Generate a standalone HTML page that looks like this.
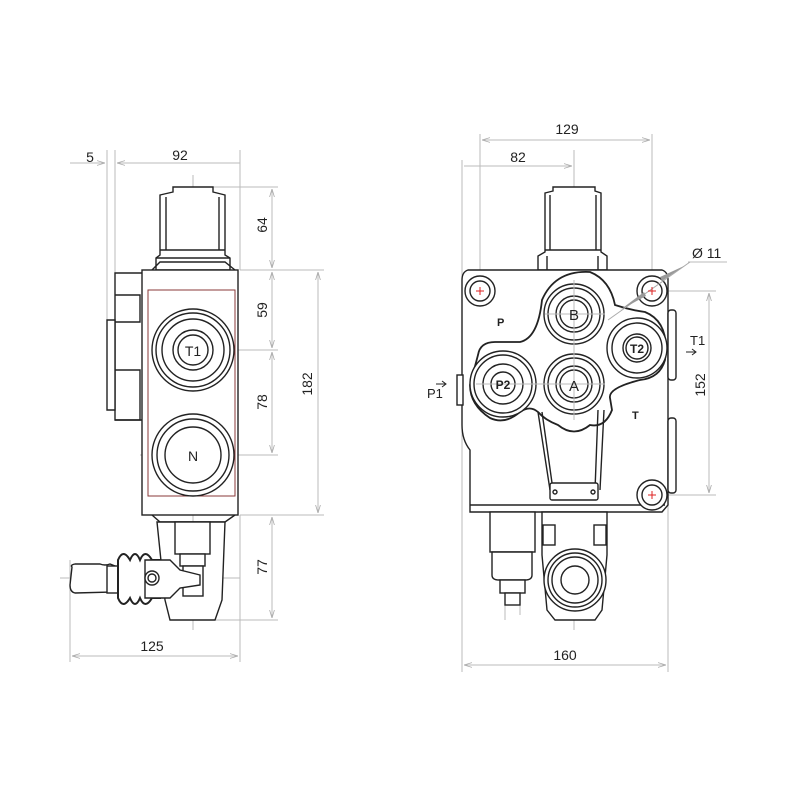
<!DOCTYPE html>
<html><head><meta charset="utf-8"><style>
html,body{margin:0;padding:0;background:#fff;width:800px;height:800px;overflow:hidden}
svg{display:block}
text{font-family:"Liberation Sans",sans-serif;fill:#222}
</style></head><body>
<svg width="800" height="800" viewBox="0 0 800 800" xmlns="http://www.w3.org/2000/svg">
<defs>
<marker id="a" viewBox="0 0 10 10" refX="10" refY="5" markerWidth="8" markerHeight="8" orient="auto-start-reverse"><path d="M0,2 L10,5 L0,8" fill="none" stroke="#aaa" stroke-width="1"/></marker>
</defs>
<g stroke="#bbb" stroke-width="1" fill="none">
<line x1="107" y1="150" x2="107" y2="410"/><line x1="115" y1="150" x2="115" y2="330"/><line x1="240" y1="150" x2="240" y2="270"/>
<line x1="70" y1="163" x2="105" y2="163" marker-end="url(#a)"/><line x1="117" y1="163" x2="240" y2="163" marker-start="url(#a)"/>
<line x1="200" y1="187" x2="278" y2="187"/><line x1="240" y1="270" x2="324" y2="270"/><line x1="120" y1="350" x2="278" y2="350"/>
<line x1="140" y1="455" x2="278" y2="455"/><line x1="240" y1="515" x2="324" y2="515"/><line x1="200" y1="620" x2="278" y2="620"/>
<line x1="272" y1="189" x2="272" y2="268" marker-start="url(#a)" marker-end="url(#a)"/>
<line x1="272" y1="272" x2="272" y2="348" marker-start="url(#a)" marker-end="url(#a)"/>
<line x1="272" y1="352" x2="272" y2="453" marker-start="url(#a)" marker-end="url(#a)"/>
<line x1="272" y1="517" x2="272" y2="618" marker-start="url(#a)" marker-end="url(#a)"/>
<line x1="318" y1="272" x2="318" y2="513" marker-start="url(#a)" marker-end="url(#a)"/>
<line x1="193" y1="175" x2="193" y2="630"/>
<line x1="60" y1="578" x2="240" y2="578"/>
<line x1="70" y1="560" x2="70" y2="662"/><line x1="240" y1="515" x2="240" y2="662"/>
<line x1="72" y1="656" x2="238" y2="656" marker-start="url(#a)" marker-end="url(#a)"/>
<line x1="462" y1="160" x2="462" y2="672"/><line x1="480" y1="134" x2="480" y2="300"/><line x1="652" y1="134" x2="652" y2="300"/>
<line x1="482" y1="140" x2="650" y2="140" marker-start="url(#a)" marker-end="url(#a)"/>
<line x1="464" y1="166" x2="572" y2="166" marker-end="url(#a)"/>
<line x1="574" y1="150" x2="574" y2="630"/><line x1="668" y1="500" x2="668" y2="672"/>
<line x1="464" y1="665" x2="666" y2="665" marker-start="url(#a)" marker-end="url(#a)"/>
<line x1="655" y1="291" x2="716" y2="291"/><line x1="655" y1="495" x2="716" y2="495"/>
<line x1="709" y1="293" x2="709" y2="493" marker-start="url(#a)" marker-end="url(#a)"/>
<line x1="688" y1="262" x2="727" y2="262"/>
<line x1="505" y1="410" x2="505" y2="620"/><line x1="520" y1="500" x2="520" y2="615"/>
</g>
<g font-size="14">
<text x="90" y="162" text-anchor="middle">5</text>
<text x="180" y="160" text-anchor="middle">92</text>
<text x="152" y="651" text-anchor="middle">125</text>
<text transform="translate(267,225) rotate(-90)" text-anchor="middle">64</text>
<text transform="translate(267,310) rotate(-90)" text-anchor="middle">59</text>
<text transform="translate(267,402) rotate(-90)" text-anchor="middle">78</text>
<text transform="translate(267,567) rotate(-90)" text-anchor="middle">77</text>
<text transform="translate(312,384) rotate(-90)" text-anchor="middle">182</text>
<text x="567" y="134" text-anchor="middle">129</text>
<text x="518" y="162" text-anchor="middle">82</text>
<text x="565" y="660" text-anchor="middle">160</text>
<text transform="translate(705,385) rotate(-90)" text-anchor="middle">152</text>
<text x="692" y="258">Ø 11</text>
</g>
<text x="427" y="398" font-size="13">P1</text>
<text x="690" y="345" font-size="13">T1</text>
<path d="M436,384 h10 M442,381 l4,3 l-4,3" stroke="#222" fill="none"/>
<path d="M686,352 h10 M692,349 l4,3 l-4,3" stroke="#222" fill="none"/>

<g stroke="#222" stroke-width="1.4" fill="#fff">
<path d="M173,187 L213,187 L213,192 L225,195 L225,255 L230,258 L230,270 L156,270 L156,258 L160,255 L160,195 L173,192 Z"/>
<line x1="166" y1="197" x2="166" y2="250"/><line x1="219" y1="197" x2="219" y2="250"/>
<line x1="160" y1="250" x2="225" y2="250"/><line x1="156" y1="258" x2="230" y2="258"/>
<path d="M115,273 L145,273 L145,420 L115,420 Z"/>
<path d="M107,320 L115,320 L115,410 L107,410 Z"/>
<path d="M115,370 L140,370 L140,420 L115,420" fill="none"/>
<path d="M115,295 L140,295 L140,322 L115,322" fill="none"/>
<rect x="142" y="270" width="96" height="245"/>
<rect x="148" y="290" width="87" height="206" stroke="#8a3a3a" stroke-width="1"/>
<path d="M152,270 L160,262 L225,262 L235,270" fill="none"/>
<path d="M152,515 L160,522 L225,522 L235,515" fill="none"/>
<circle cx="193" cy="350" r="41"/><circle cx="193" cy="350" r="37"/><circle cx="193" cy="350" r="31"/>
<circle cx="193" cy="350" r="20"/><circle cx="193" cy="350" r="15"/>
<circle cx="193" cy="455" r="41"/><circle cx="193" cy="455" r="36"/><circle cx="193" cy="455" r="28"/>
<path d="M157,522 L225,522 L222,600 L215,620 L170,620 L165,600 Z"/>
<rect x="175" y="522" width="35" height="32"/>
<rect x="180" y="554" width="25" height="12"/>
<rect x="183" y="566" width="20" height="30"/>
<path d="M72,567 Q70,565 75,564 L100,564 Q105,566 110,564 L115,566 L115,592 L75,593 Q70,592 70,585 Z"/>
<rect x="107" y="566" width="12" height="27"/>
<path d="M118,560 Q123,548 130,560 Q135,548 140,560 Q145,548 152,560 L160,560 L160,598 L152,598 Q145,610 140,598 Q135,610 130,598 Q123,610 118,598 Z" stroke-width="2"/>
<path d="M145,560 L170,560 L180,570 L200,575 L200,585 L180,588 L170,598 L145,598 Z"/>
<circle cx="152" cy="578" r="7"/><circle cx="152" cy="578" r="4"/>
</g>
<text x="193" y="356" font-size="14" text-anchor="middle">T1</text>
<text x="193" y="461" font-size="14" text-anchor="middle">N</text>

<g stroke="#222" stroke-width="1.4" fill="#fff">
<path d="M553,187 L595,187 L595,191 L601,193 L601,252 L607,256 L607,270 L538,270 L538,256 L545,252 L545,193 L553,191 Z"/>
<line x1="550" y1="195" x2="550" y2="250"/><line x1="596" y1="195" x2="596" y2="250"/>
<line x1="545" y1="250" x2="601" y2="250"/><line x1="547" y1="256" x2="547" y2="270"/><line x1="598" y1="256" x2="598" y2="270"/>
<path d="M468,270 L662,270 Q668,272 668,280 L668,505 L662,512 L470,512 L470,450 Q462,440 462,425 L462,280 Q462,272 468,270 Z"/>
<rect x="668" y="310" width="8" height="70" rx="3"/><rect x="668" y="418" width="8" height="75" rx="3"/>
<rect x="457" y="375" width="6" height="30"/>
<path d="M470,505 L665,505" fill="none"/>
<path d="M478,355 Q480,342 495,342 L520,342 Q538,338 542,300 Q555,270 590,272 Q610,280 615,305 Q630,310 645,312 Q670,322 665,360 Q660,378 640,380 Q608,388 610,398 L612,410 Q605,428 590,425 Q574,438 558,425 Q545,420 538,412 Q530,405 520,412 Q505,425 490,418 Q470,405 470,385 Z" fill="none" stroke-width="1.8"/>
<path d="M538,412 L550,490 M598,410 L595,490" fill="none"/>
<path d="M542,412 L553,490 M604,410 L600,490" fill="none"/>
<rect x="550" y="483" width="48" height="17" rx="2"/>
<circle cx="555" cy="492" r="2"/><circle cx="593" cy="492" r="2"/>
<circle cx="574" cy="314" r="30"/><circle cx="574" cy="314" r="26"/><circle cx="574" cy="314" r="18"/><circle cx="574" cy="314" r="14"/>
<circle cx="574" cy="384" r="30"/><circle cx="574" cy="384" r="26"/><circle cx="574" cy="384" r="18"/><circle cx="574" cy="384" r="14"/>
<circle cx="503" cy="384" r="33"/><circle cx="503" cy="384" r="29"/><circle cx="503" cy="384" r="20"/><circle cx="503" cy="384" r="12"/>
<circle cx="637" cy="348" r="30"/><circle cx="637" cy="348" r="25"/><circle cx="637" cy="348" r="14"/><circle cx="637" cy="348" r="11"/>
<circle cx="480" cy="291" r="15"/><circle cx="480" cy="291" r="10"/>
<circle cx="652" cy="291" r="15"/><circle cx="652" cy="291" r="10"/>
<circle cx="652" cy="495" r="15"/><circle cx="652" cy="495" r="10"/>
<rect x="490" y="512" width="45" height="40"/>
<path d="M492,552 L532,552 L532,575 Q532,580 525,580 L499,580 Q492,580 492,575 Z"/>
<rect x="500" y="580" width="25" height="13"/><rect x="505" y="593" width="15" height="12"/>
<path d="M542,512 L607,512 L607,555 L602,610 L595,620 L555,620 L547,610 L542,555 Z"/>
<rect x="543" y="525" width="12" height="20"/><rect x="594" y="525" width="12" height="20"/>
<circle cx="575" cy="580" r="31"/><circle cx="575" cy="580" r="27"/><circle cx="575" cy="580" r="23"/><circle cx="575" cy="580" r="14"/>
</g>
<g stroke="#bbb" stroke-width="1" fill="none">
<line x1="476" y1="384" x2="605" y2="384"/><line x1="545" y1="314" x2="605" y2="314"/>
<line x1="574" y1="280" x2="574" y2="420"/>
<line x1="608" y1="320" x2="690" y2="262" stroke="#aaa"/>
</g>
<polygon points="620,310 644,292 646,296" fill="#999"/>
<polygon points="684,266 662,281 660,277" fill="#999"/>
<g stroke="#d22" stroke-width="1"><path d="M476,291h8M480,287v8M648,291h8M652,287v8M648,495h8M652,491v8"/></g>
<g font-size="15" text-anchor="middle"><text x="574" y="320">B</text><text x="574" y="391">A</text></g>
<g font-size="12" font-weight="bold" text-anchor="middle"><text x="503" y="389">P2</text><text x="637" y="353">T2</text></g>
<g font-size="11" font-weight="bold" fill="#444"><text x="497" y="326">P</text><text x="632" y="419">T</text></g>
</svg>
</body></html>
